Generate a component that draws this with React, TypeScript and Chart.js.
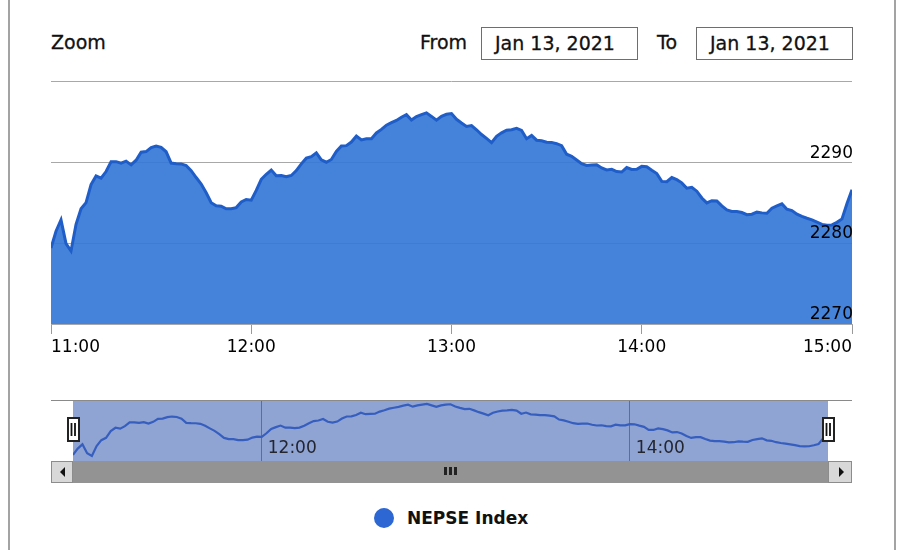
import React, { useEffect, useRef } from 'react';
import { Chart, registerables } from 'chart.js';

Chart.register(...registerables);

// ---- data (ordinal positions: one value per sample, left to right) ----
const seriesName = 'NEPSE Index';
const fromDate = 'Jan 13, 2021';
const toDate = 'Jan 13, 2021';

const indexValues: number[] = [
  2279.39, 2281.46, 2282.87, 2279.93, 2279.02, 2282.32, 2284.23, 2285.0, 2287.23, 2288.29,
  2288.01, 2288.84, 2290.06, 2290.06, 2289.88, 2290.12, 2289.66, 2290.24, 2291.22, 2291.3,
  2291.79, 2291.98, 2291.83, 2291.28, 2289.88, 2289.79, 2289.78, 2289.59, 2288.95, 2288.1,
  2287.29, 2286.22, 2284.98, 2284.6, 2284.56, 2284.23, 2284.23, 2284.38, 2285.07, 2285.39,
  2285.3, 2286.5, 2287.88, 2288.5, 2289.02, 2288.33, 2288.34, 2288.2, 2288.35, 2288.95,
  2289.79, 2290.49, 2290.68, 2291.15, 2290.28, 2289.99, 2290.33, 2291.32, 2292.0, 2292.04,
  2292.48, 2293.23, 2292.74, 2292.88, 2292.9, 2293.6, 2294.04, 2294.57, 2294.87, 2295.15,
  2295.55, 2295.87, 2295.21, 2295.63, 2295.87, 2296.09, 2295.65, 2295.18, 2295.65, 2295.91,
  2296.0, 2295.29, 2294.83, 2294.41, 2294.52, 2294.0, 2293.41, 2292.93, 2292.41, 2293.2,
  2293.62, 2293.94, 2294.01, 2294.18, 2293.91, 2292.9, 2293.29, 2292.71, 2292.63, 2292.46,
  2292.44, 2292.28, 2292.04, 2290.98, 2290.71, 2290.27, 2289.8, 2289.6, 2289.65, 2289.68,
  2289.28, 2289.04, 2289.11, 2288.84, 2288.78, 2289.33, 2289.1, 2289.11, 2289.48, 2289.44,
  2289.0, 2288.6, 2287.62, 2287.59, 2288.1, 2287.83, 2287.44, 2286.78, 2286.89, 2286.41,
  2285.57, 2284.96, 2285.24, 2285.2, 2284.59, 2284.09, 2283.9, 2283.9, 2283.77, 2283.5,
  2283.56, 2283.82, 2283.73, 2283.68, 2284.3, 2284.59, 2284.84, 2284.18, 2284.02, 2283.57,
  2283.29, 2283.07, 2282.87, 2282.6, 2282.3, 2282.2, 2282.24, 2282.56, 2282.99, 2284.88,
  2286.59,
];

const hourTickIndex = [0, 40, 80, 118, 160];
const hourTickLabels = ['11:00', '12:00', '13:00', '14:00', '15:00'];
const navTickIndex = [40, 118];
const navTickLabels = ['12:00', '14:00'];
const yTickValues = [2270, 2280, 2290, 2300];
const yMin = 2270;
const yMax = 2300;
const navYMin = 2277.4;
const navYMax = 2297.4;

const FONT = 'DejaVu Sans';

const points = () => indexValues.map((v, i) => ({ x: i, y: v }));

const navPlugin = {
  id: 'navDecor',
  beforeDraw(chart: any) {
    const { ctx, chartArea: a } = chart;
    ctx.save();
    ctx.fillStyle = '#8fa4d3';
    ctx.fillRect(a.left, a.top, a.right - a.left, a.bottom - a.top);
    ctx.restore();
  },
  afterDraw(chart: any) {
    const { ctx, chartArea: a } = chart;
    const xs = chart.scales.x;
    ctx.save();
    ctx.font = `17px "${FONT}"`;
    ctx.fillStyle = '#23252f';
    ctx.textAlign = 'left';
    ctx.textBaseline = 'middle';
    navTickIndex.forEach((idx, k) => {
      ctx.fillText(navTickLabels[k], xs.getPixelForValue(idx) + 6, a.top + 49);
    });
    // handles
    [a.left, a.right].forEach((hx: number) => {
      const w = 11;
      const h = 23;
      const top = a.top + 18;
      ctx.fillStyle = '#ffffff';
      ctx.strokeStyle = '#222222';
      ctx.lineWidth = 2;
      ctx.fillRect(Math.round(hx - w / 2), top, w, h);
      ctx.strokeRect(Math.round(hx - w / 2), top, w, h);
      ctx.lineWidth = 1.8;
      ctx.strokeStyle = '#111';
      ctx.beginPath();
      ctx.moveTo(Math.round(hx) - 1.5, top + 5);
      ctx.lineTo(Math.round(hx) - 1.5, top + h - 5);
      ctx.moveTo(Math.round(hx) + 2, top + 5);
      ctx.lineTo(Math.round(hx) + 2, top + h - 5);
      ctx.stroke();
    });
    ctx.restore();
  },
};

export default function App() {
  const mainRef = useRef<HTMLCanvasElement | null>(null);
  const navRef = useRef<HTMLCanvasElement | null>(null);

  useEffect(() => {
    const main = new Chart(mainRef.current as HTMLCanvasElement, {
      type: 'line',
      data: {
        datasets: [
          {
            label: seriesName,
            data: points(),
            borderColor: '#1f5dc8',
            borderWidth: 3,
            backgroundColor: 'rgba(52,120,214,0.92)',
            fill: 'start',
            pointRadius: 0,
            tension: 0,
          },
        ],
      },
      options: {
        animation: false,
        responsive: true,
        maintainAspectRatio: false,
        layout: { padding: { left: 51, right: 48, top: 8, bottom: 0 } },
        plugins: { legend: { display: false }, tooltip: { enabled: false } },
        scales: {
          x: {
            type: 'linear',
            min: 0,
            max: indexValues.length - 1,
            afterBuildTicks: (s: any) => {
              s.ticks = hourTickIndex.map((v) => ({ value: v }));
            },
            afterFit: (s: any) => {
              s.height = 46;
            },
            ticks: {
              autoSkip: false,
              maxRotation: 0,
              align: 'inner',
              padding: 3,
              color: '#000',
              font: { family: FONT, size: 17 },
              callback: (v: any) => {
                const k = hourTickIndex.indexOf(Number(v));
                return k >= 0 ? hourTickLabels[k] : '';
              },
            },
            grid: { drawOnChartArea: false, drawTicks: true, tickLength: 10, color: '#9a9a9a' },
            border: { display: true, color: '#a8a8a8', width: 1 },
          },
          y: {
            type: 'linear',
            position: 'right',
            min: yMin,
            max: yMax,
            afterBuildTicks: (s: any) => {
              s.ticks = yTickValues.map((v) => ({ value: v }));
            },
            afterFit: (s: any) => {
              s.width = 0;
            },
            ticks: {
              mirror: true,
              padding: 1,
              labelOffset: -9,
              z: 1,
              color: '#000',
              font: { family: FONT, size: 17 },
              callback: (v: any) => (Number(v) === yMax ? '' : String(v)),
            },
            grid: { color: '#a8a8a8', drawTicks: false },
            border: { display: false },
          },
        },
      } as any,
    });

    const nav = new Chart(navRef.current as HTMLCanvasElement, {
      type: 'line',
      data: {
        datasets: [
          {
            label: seriesName,
            data: points(),
            borderColor: '#355ebf',
            borderWidth: 2.2,
            fill: false,
            pointRadius: 0,
            tension: 0,
          },
        ],
      },
      options: {
        animation: false,
        responsive: true,
        maintainAspectRatio: false,
        layout: { padding: { left: 73, right: 72, top: 5, bottom: 0 } },
        plugins: { legend: { display: false }, tooltip: { enabled: false } },
        scales: {
          x: {
            type: 'linear',
            min: 0,
            max: indexValues.length - 1,
            afterBuildTicks: (s: any) => {
              s.ticks = navTickIndex.map((v) => ({ value: v }));
            },
            afterFit: (s: any) => {
              s.height = 0;
            },
            ticks: { display: false },
            grid: { color: '#5e6d96', drawTicks: false, lineWidth: 1 },
            border: { display: false },
          },
          y: { display: false, min: navYMin, max: navYMax },
        },
      } as any,
      plugins: [navPlugin],
    });

    return () => {
      main.destroy();
      nav.destroy();
    };
  }, []);

  const abs = (s: React.CSSProperties): React.CSSProperties => ({ position: 'absolute', ...s });
  const textStyle: React.CSSProperties = {
    fontFamily: FONT,
    fontSize: 19,
    color: '#111',
    lineHeight: '20px',
    whiteSpace: 'nowrap',
    WebkitTextStroke: '0.3px #111',
  };
  const box: React.CSSProperties = {
    ...textStyle,
    top: 27,
    width: 157,
    height: 33,
    boxSizing: 'border-box',
    border: '1.5px solid #6e6e6e',
    paddingLeft: 13,
    lineHeight: '30px',
    background: '#fff',
  };

  return (
    <div
      style={{
        position: 'fixed',
        left: 0,
        top: 0,
        width: 900,
        height: 550,
        background: '#fff',
        overflow: 'hidden',
      }}
    >
      {/* frame sides */}
      <div style={abs({ left: 8, top: 0, width: 2, height: 550, background: '#a3a3a3' })} />
      <div style={abs({ left: 894, top: 0, width: 2, height: 550, background: '#a3a3a3' })} />

      {/* range selector */}
      <div style={abs({ ...textStyle, left: 51, top: 32 })}>Zoom</div>
      <div style={abs({ ...textStyle, left: 420, top: 32 })}>From</div>
      <div style={abs({ ...box, left: 481 })}>{fromDate}</div>
      <div style={abs({ ...textStyle, left: 657, top: 32 })}>To</div>
      <div style={abs({ ...box, left: 696 })}>{toDate}</div>

      {/* main chart */}
      <div style={abs({ left: 0, top: 70, width: 900, height: 300 })}>
        <canvas ref={mainRef} />
      </div>

      {/* navigator */}
      <div style={abs({ left: 0, top: 395, width: 900, height: 66 })}>
        <canvas ref={navRef} />
      </div>
      <div style={abs({ left: 51, top: 400, width: 801, height: 1, background: '#8a8a8a' })} />

      {/* scrollbar */}
      <div style={abs({ left: 51, top: 461, width: 801, height: 22, background: '#939393' })} />
      <div
        style={abs({
          left: 51,
          top: 461,
          width: 22,
          height: 22,
          boxSizing: 'border-box',
          background: '#d8d8d8',
          border: '1px solid #8c8c8c',
        })}
      />
      <div
        style={abs({
          left: 60,
          top: 467,
          width: 0,
          height: 0,
          borderTop: '5px solid transparent',
          borderBottom: '5px solid transparent',
          borderRight: '5px solid #111',
        })}
      />
      <div
        style={abs({
          left: 828,
          top: 461,
          width: 24,
          height: 22,
          boxSizing: 'border-box',
          background: '#d8d8d8',
          border: '1px solid #8c8c8c',
        })}
      />
      <div
        style={abs({
          left: 839,
          top: 467,
          width: 0,
          height: 0,
          borderTop: '5px solid transparent',
          borderBottom: '5px solid transparent',
          borderLeft: '5px solid #111',
        })}
      />
      <div style={abs({ left: 444, top: 467, width: 3, height: 8, background: '#222' })} />
      <div style={abs({ left: 449, top: 467, width: 3, height: 8, background: '#222' })} />
      <div style={abs({ left: 454, top: 467, width: 3, height: 8, background: '#222' })} />

      {/* legend */}
      <div
        style={abs({ left: 374, top: 508, width: 20, height: 20, borderRadius: '50%', background: '#2c67d4' })}
      />
      <div
        style={abs({
          left: 407,
          top: 508,
          fontFamily: FONT,
          fontWeight: 'bold',
          fontSize: 17,
          lineHeight: '20px',
          color: '#111',
          whiteSpace: 'nowrap',
        })}
      >
        {seriesName}
      </div>
    </div>
  );
}
